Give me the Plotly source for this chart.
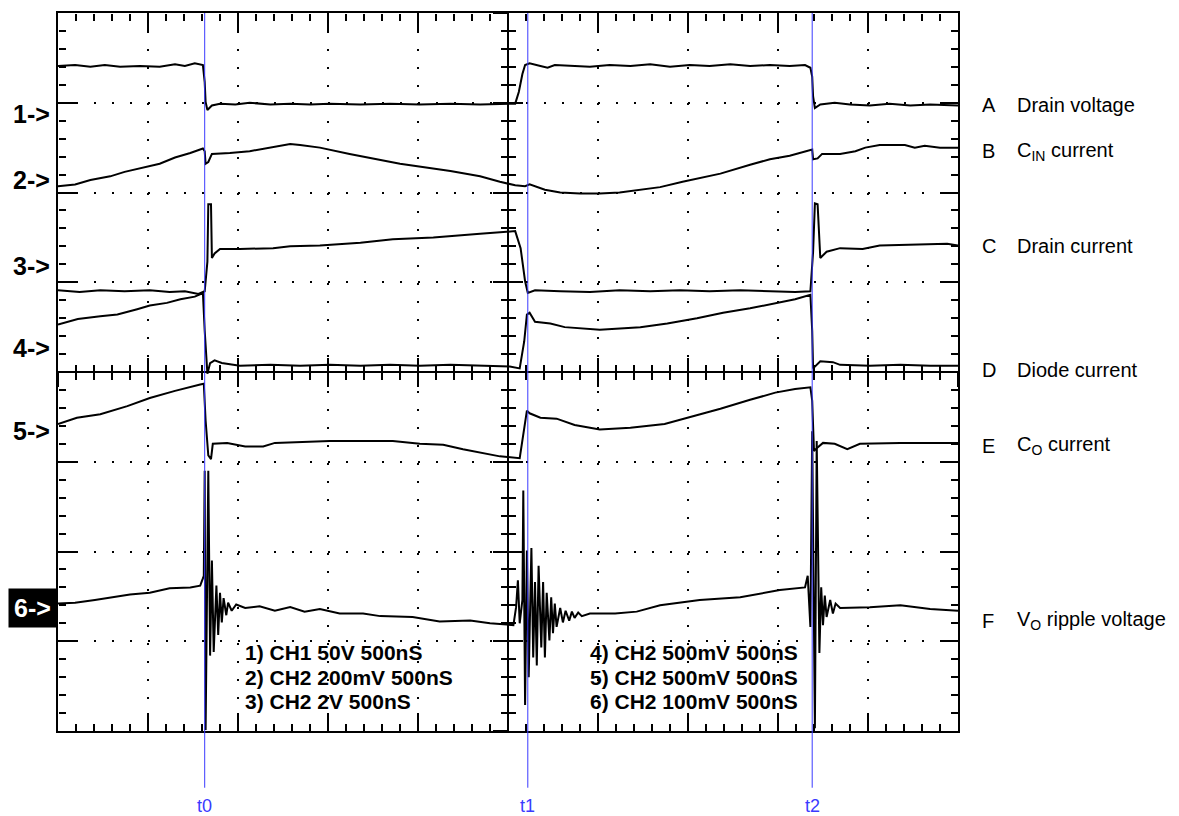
import plotly.graph_objects as go

# Time in screen divisions (500 ns/div, 10 div), amplitude in screen divisions (8 div)
drain_voltage = [(0, 7.41), (0.19, 7.42), (0.36, 7.40), (0.52, 7.42), (0.69, 7.40), (0.91, 7.41), (1.13, 7.40),
                 (1.30, 7.43), (1.41, 7.41), (1.52, 7.44), (1.61, 7.42), (1.63, 7.23), (1.64, 7.01), (1.66, 6.92),
                 (1.71, 6.97), (1.80, 6.99), (1.97, 6.98), (2.13, 7.00), (2.36, 6.98), (2.58, 6.99), (2.80, 6.98),
                 (3.02, 6.99), (3.36, 6.98), (3.69, 6.99), (4.02, 6.98), (4.36, 6.99), (4.69, 6.98), (4.97, 6.99),
                 (5.08, 6.99), (5.12, 7.12), (5.16, 7.32), (5.19, 7.42), (5.24, 7.44), (5.36, 7.41), (5.44, 7.39),
                 (5.52, 7.42), (5.69, 7.41), (5.91, 7.40), (6.13, 7.42), (6.36, 7.41), (6.58, 7.43), (6.80, 7.40),
                 (7.02, 7.42), (7.24, 7.41), (7.47, 7.43), (7.69, 7.41), (7.91, 7.42), (8.13, 7.41), (8.30, 7.42),
                 (8.36, 7.39), (8.38, 7.29), (8.39, 7.07), (8.41, 6.94), (8.47, 6.98), (8.63, 7.00), (8.80, 6.98),
                 (9.02, 6.97), (9.24, 6.99), (9.47, 6.97), (9.69, 6.98), (10.0, 6.97)]

cin_current = [(0, 6.07), (0.19, 6.09), (0.36, 6.14), (0.58, 6.18), (0.74, 6.23), (0.97, 6.28), (1.13, 6.32),
               (1.30, 6.39), (1.47, 6.44), (1.61, 6.49), (1.63, 6.46), (1.64, 6.32), (1.67, 6.34), (1.71, 6.43),
               (1.91, 6.44), (2.13, 6.46), (2.36, 6.50), (2.58, 6.54), (2.69, 6.53), (2.91, 6.50), (3.24, 6.43),
               (3.80, 6.32), (4.36, 6.24), (4.69, 6.18), (4.91, 6.12), (5.08, 6.08), (5.19, 6.07), (5.24, 6.09),
               (5.41, 6.03), (5.58, 6.00), (5.80, 5.99), (6.02, 5.99), (6.24, 6.00), (6.47, 6.03), (6.69, 6.06),
               (6.94, 6.12), (7.13, 6.16), (7.36, 6.21), (7.69, 6.31), (7.91, 6.37), (8.13, 6.41), (8.30, 6.46),
               (8.38, 6.48), (8.39, 6.37), (8.44, 6.38), (8.49, 6.43), (8.69, 6.43), (8.86, 6.46), (8.97, 6.50),
               (9.13, 6.53), (9.41, 6.53), (9.52, 6.50), (9.63, 6.52), (9.80, 6.50), (10.0, 6.50)]

drain_current = [(0, 4.91), (0.24, 4.89), (0.47, 4.91), (0.74, 4.90), (1.02, 4.91), (1.24, 4.89), (1.41, 4.90),
                 (1.56, 4.87), (1.63, 4.90), (1.66, 5.23), (1.67, 5.87), (1.70, 5.87), (1.71, 5.27), (1.74, 5.32),
                 (1.80, 5.37), (2.02, 5.37), (2.39, 5.38), (2.58, 5.40), (2.91, 5.41), (3.36, 5.44), (3.72, 5.48),
                 (4.17, 5.50), (4.69, 5.54), (5.08, 5.57), (5.14, 5.38), (5.19, 5.01), (5.22, 4.88), (5.30, 4.91),
                 (5.58, 4.90), (5.91, 4.89), (6.24, 4.91), (6.58, 4.90), (6.91, 4.91), (7.24, 4.90), (7.58, 4.91),
                 (7.91, 4.90), (8.19, 4.89), (8.36, 4.90), (8.39, 5.34), (8.41, 5.88), (8.44, 5.87), (8.47, 5.27),
                 (8.54, 5.34), (8.69, 5.38), (8.94, 5.37), (9.13, 5.41), (9.50, 5.42), (9.88, 5.43), (10.0, 5.41)]

diode_current = [(0, 4.53), (0.22, 4.59), (0.47, 4.62), (0.66, 4.64), (0.88, 4.70), (1.02, 4.74), (1.21, 4.77),
                 (1.36, 4.81), (1.52, 4.84), (1.61, 4.88), (1.63, 4.46), (1.66, 3.98), (1.69, 4.10), (1.74, 4.13),
                 (1.82, 4.10), (2.02, 4.07), (2.36, 4.08), (2.69, 4.07), (3.02, 4.08), (3.36, 4.07), (3.69, 4.08),
                 (4.02, 4.07), (4.36, 4.08), (4.69, 4.07), (5.02, 4.06), (5.13, 4.04), (5.18, 4.34), (5.21, 4.64),
                 (5.24, 4.66), (5.30, 4.56), (5.47, 4.54), (5.63, 4.50), (6.02, 4.47), (6.47, 4.50), (6.77, 4.54),
                 (7.10, 4.60), (7.39, 4.66), (7.69, 4.71), (7.97, 4.77), (8.19, 4.81), (8.36, 4.86), (8.38, 4.46),
                 (8.39, 4.04), (8.47, 4.12), (8.61, 4.11), (8.69, 4.08), (9.02, 4.07), (9.36, 4.08), (9.69, 4.07),
                 (10.0, 4.07)]

co_current = [(0, 3.42), (0.21, 3.49), (0.47, 3.53), (0.77, 3.62), (1.02, 3.71), (1.30, 3.79), (1.58, 3.86),
              (1.62, 3.87), (1.64, 3.46), (1.67, 3.07), (1.70, 3.03), (1.72, 3.20), (1.88, 3.21), (2.08, 3.17),
              (2.28, 3.17), (2.41, 3.21), (3.02, 3.23), (3.72, 3.23), (4.02, 3.20), (4.28, 3.19), (4.50, 3.14),
              (4.69, 3.10), (4.91, 3.06), (5.13, 3.04), (5.18, 3.34), (5.21, 3.57), (5.24, 3.54), (5.36, 3.49),
              (5.54, 3.48), (5.74, 3.41), (6.02, 3.36), (6.36, 3.38), (6.74, 3.42), (7.08, 3.51), (7.36, 3.59),
              (7.69, 3.69), (7.97, 3.77), (8.19, 3.81), (8.36, 3.83), (8.38, 3.68), (8.40, 3.12), (8.44, 3.16),
              (8.50, 3.21), (8.63, 3.20), (8.77, 3.14), (8.91, 3.20), (9.36, 3.21), (10.0, 3.21)]

vo_ripple = [(0, 1.42), (0.19, 1.43), (0.41, 1.46), (0.63, 1.49), (0.80, 1.52), (1.02, 1.54), (1.24, 1.59),
             (1.47, 1.60), (1.58, 1.62), (1.61, 1.70), (1.62, 1.73), (1.63, 2.90), (1.64, 0.01), (1.67, 2.90),
             (1.69, 0.84), (1.71, 1.90), (1.73, 0.88), (1.76, 1.62), (1.78, 1.07), (1.80, 1.54), (1.82, 1.21),
             (1.84, 1.48), (1.87, 1.29), (1.89, 1.43), (1.93, 1.34), (1.98, 1.41), (2.08, 1.37), (2.24, 1.39),
             (2.41, 1.34), (2.58, 1.38), (2.74, 1.33), (2.91, 1.36), (3.13, 1.31), (3.39, 1.31), (3.58, 1.28),
             (3.94, 1.27), (4.24, 1.22), (4.58, 1.23), (4.80, 1.20), (5.06, 1.18), (5.09, 1.38), (5.11, 1.68),
             (5.13, 1.20), (5.16, 1.46), (5.17, 2.68), (5.19, 0.29), (5.21, 2.01), (5.23, 0.60), (5.26, 2.04),
             (5.28, 0.82), (5.30, 1.66), (5.32, 0.73), (5.34, 1.84), (5.37, 0.93), (5.39, 1.66), (5.41, 0.82),
             (5.43, 1.54), (5.46, 1.01), (5.48, 1.49), (5.50, 1.09), (5.52, 1.42), (5.54, 1.16), (5.58, 1.37),
             (5.61, 1.21), (5.64, 1.34), (5.68, 1.23), (5.71, 1.33), (5.74, 1.26), (5.78, 1.32), (5.82, 1.28),
             (5.91, 1.31), (6.19, 1.31), (6.43, 1.33), (6.69, 1.40), (7.13, 1.46), (7.58, 1.49), (8.02, 1.57),
             (8.30, 1.60), (8.33, 1.73), (8.36, 1.16), (8.38, 3.34), (8.41, 0.03), (8.43, 3.23), (8.46, 0.87),
             (8.48, 1.60), (8.50, 1.18), (8.52, 1.51), (8.54, 1.27), (8.58, 1.46), (8.61, 1.31), (8.64, 1.42),
             (8.69, 1.37), (9.02, 1.38), (9.36, 1.40), (9.69, 1.36), (10.0, 1.34)]

channel_labels = ["1->", "2->", "3->", "4->", "5->", "6->"]
channel_levels = [6.87, 6.14, 5.18, 4.27, 3.34, 1.37]

trace_letters = ["A", "B", "C", "D", "E", "F"]
trace_names = ["Drain voltage", "C<sub>IN</sub> current", "Drain current", "Diode current",
               "C<sub>O</sub> current", "V<sub>O</sub> ripple voltage"]
trace_label_levels = [6.97, 6.46, 5.40, 4.02, 3.18, 1.23]

marker_times = [1.63, 5.22, 8.38]
marker_labels = ["t0", "t1", "t2"]

settings_left = ["1) CH1 50V 500nS", "2) CH2 200mV 500nS", "3) CH2 2V 500nS"]
settings_right = ["4) CH2 500mV 500nS", "5) CH2 500mV 500nS", "6) CH2 100mV 500nS"]
settings_levels = [0.87, 0.60, 0.33]

X_DIVS, Y_DIVS = 10, 8
FONT = "Liberation Sans, Arial, sans-serif"
BLUE = "#3a3aff"

fig = go.Figure()
for pts in [drain_voltage, cin_current, drain_current, diode_current, co_current, vo_ripple]:
    fig.add_trace(go.Scatter(x=[p[0] for p in pts], y=[p[1] for p in pts], mode="lines",
                             line=dict(color="black", width=2), hoverinfo="skip", showlegend=False))

base = dict(showticklabels=False, zeroline=False, tickcolor="black", tickwidth=2, tick0=0)

# main axes: frame and dotted graticule
layout_axes = dict(
    xaxis=dict(range=[0, X_DIVS], showgrid=True, gridcolor="black", gridwidth=2, griddash="2px,16px",
               showline=True, mirror=True, linecolor="black", linewidth=2, ticks="", dtick=1, **base),
    yaxis=dict(range=[0, Y_DIVS], showgrid=True, gridcolor="black", gridwidth=2, griddash="2px,16px",
               showline=True, mirror=True, linecolor="black", linewidth=2, ticks="", dtick=1, **base),
)

# tick-only overlay axes: (letter, position, side, tick direction, dtick, ticklen, draw line)
tick_specs = [
    ("x", 0.0, "bottom", "inside", 1, 18, False), ("x", 0.0, "bottom", "inside", 0.2, 7, False),
    ("x", 1.0, "top", "inside", 1, 18, False), ("x", 1.0, "top", "inside", 0.2, 7, False),
    ("x", 0.5, "bottom", "outside", 1, 14, True), ("x", 0.5, "bottom", "inside", 1, 14, False),
    ("x", 0.5, "bottom", "outside", 0.2, 7, False), ("x", 0.5, "bottom", "inside", 0.2, 7, False),
    ("y", 0.0, "left", "inside", 1, 18, False), ("y", 0.0, "left", "inside", 0.2, 7, False),
    ("y", 1.0, "right", "inside", 1, 18, False), ("y", 1.0, "right", "inside", 0.2, 7, False),
    ("y", 0.5, "left", "outside", 1, 14, True), ("y", 0.5, "left", "inside", 1, 14, False),
    ("y", 0.5, "left", "outside", 0.2, 7, False), ("y", 0.5, "left", "inside", 0.2, 7, False),
]
counters = {"x": 1, "y": 1}
for letter, pos, side, direction, dt, tl, line in tick_specs:
    counters[letter] += 1
    n = counters[letter]
    top = X_DIVS if letter == "x" else Y_DIVS
    layout_axes[f"{letter}axis{n}"] = dict(
        range=[0, top], overlaying=letter, anchor="free", position=pos, side=side, showgrid=False,
        ticks=direction, dtick=dt, ticklen=tl, showline=line, linecolor="black", linewidth=2, **base)
    if letter == "x":
        fig.add_trace(go.Scatter(x=[None], y=[None], xaxis=f"x{n}", yaxis="y", showlegend=False,
                                 hoverinfo="skip"))
    else:
        fig.add_trace(go.Scatter(x=[None], y=[None], xaxis="x", yaxis=f"y{n}", showlegend=False,
                                 hoverinfo="skip"))

fig.update_layout(
    width=1171, height=808, autosize=False,
    margin=dict(l=50, r=221, t=3, b=85, pad=0),
    paper_bgcolor="white", plot_bgcolor="white",
    **layout_axes,
)

# time markers
for t, lab in zip(marker_times, marker_labels):
    fig.add_shape(type="line", xref="x", yref="paper", x0=t, x1=t, y0=1, y1=-0.079,
                  line=dict(color=BLUE, width=1))
    fig.add_annotation(x=t / X_DIVS, y=-0.104, xref="paper", yref="paper", text=lab, showarrow=False,
                       xanchor="center", yanchor="middle", font=dict(family=FONT, size=18, color=BLUE))

# channel reference labels
for lab, lev in zip(channel_labels, channel_levels):
    if lab == "6->":
        fig.add_annotation(x=-0.0011, y=lev / Y_DIVS, xref="paper", yref="paper", text="<b>" + lab + "</b>",
                           showarrow=False, xanchor="right", yanchor="middle", bgcolor="black", borderpad=5,
                           font=dict(family=FONT, size=25, color="white"))
    else:
        fig.add_annotation(x=-0.0067, y=lev / Y_DIVS, xref="paper", yref="paper", text="<b>" + lab + "</b>",
                           showarrow=False, xanchor="right", yanchor="middle",
                           font=dict(family=FONT, size=25, color="black"))

# trace names at right
for letter, name, lev in zip(trace_letters, trace_names, trace_label_levels):
    fig.add_annotation(x=1.024, y=lev / Y_DIVS, xref="paper", yref="paper", text=letter, showarrow=False,
                       xanchor="left", yanchor="middle", font=dict(family=FONT, size=20, color="black"))
    fig.add_annotation(x=1.063, y=lev / Y_DIVS, xref="paper", yref="paper", text=name, showarrow=False,
                       xanchor="left", yanchor="middle", font=dict(family=FONT, size=20, color="black"))

# scope settings text
for txt, lev in zip(settings_left, settings_levels):
    fig.add_annotation(x=0.206, y=lev / Y_DIVS, xref="paper", yref="paper", text="<b>" + txt + "</b>",
                       showarrow=False, xanchor="left", yanchor="middle",
                       font=dict(family=FONT, size=21, color="black"))
for txt, lev in zip(settings_right, settings_levels):
    fig.add_annotation(x=0.589, y=lev / Y_DIVS, xref="paper", yref="paper", text="<b>" + txt + "</b>",
                       showarrow=False, xanchor="left", yanchor="middle",
                       font=dict(family=FONT, size=21, color="black"))

fig.write_html("out.html")
